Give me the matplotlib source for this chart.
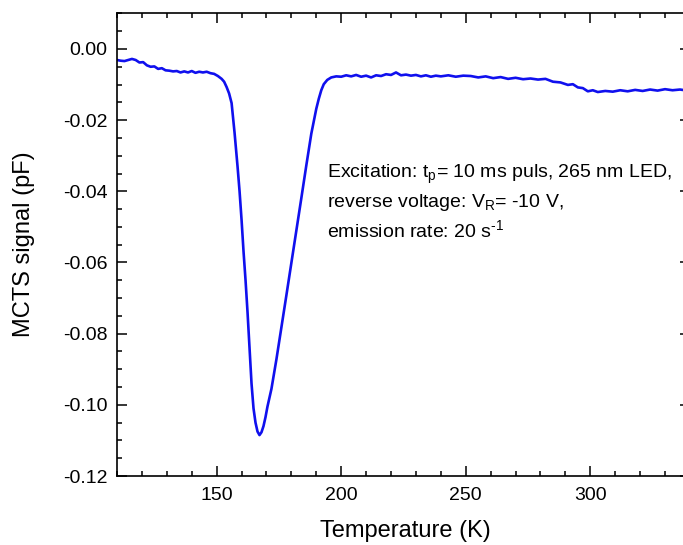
import matplotlib
matplotlib.use('Agg')
import matplotlib.pyplot as plt
from matplotlib.ticker import MultipleLocator

plt.rcParams['font.family'] = ['Liberation Sans', 'DejaVu Sans']
plt.rcParams['mathtext.fontset'] = 'custom'
plt.rcParams['mathtext.rm'] = 'Liberation Sans'
plt.rcParams['mathtext.it'] = 'Liberation Sans:italic'

# Temperatur (K) und MCTS-Signal (pF)
temperature = [
    110.0, 111.5, 113.0, 114.5, 116.0, 117.5, 119.0, 120.5, 122.0, 123.5,
    125.0, 126.5, 128.0, 129.5, 131.0, 132.5, 134.0, 135.5, 137.0, 138.5,
    140.0, 141.5, 143.0, 144.5, 146.0, 147.5, 149.0, 150.5, 152.0, 153.0,
    154.0, 155.0, 156.0, 157.2, 158.4, 159.2, 160.0, 160.8, 161.6, 162.4,
    163.2, 164.0, 164.8, 165.6, 166.4, 167.2, 168.0, 168.8, 169.6, 170.4,
    172.0, 174.0, 176.0, 178.0, 180.0, 182.0, 184.0, 186.0, 188.0, 190.0,
    191.0, 192.0, 193.0, 194.4, 196.0, 198.0,
    200, 202, 204, 206, 208, 210, 212, 214, 216, 218,
    220, 222, 224, 226, 228, 230, 232, 234, 236, 238,
    240, 243, 246, 249, 252, 255, 258, 261, 264, 267,
    270, 273, 276, 279, 282, 285, 288, 291, 293, 295,
    297, 299, 301, 303, 306, 309, 312, 315, 318, 321,
    324, 327, 330, 333, 336, 339, 341,
]
signal = [
    -0.0031, -0.0033, -0.0034, -0.0031, -0.0028, -0.0031, -0.0038, -0.0037, -0.0046, -0.0050,
    -0.0049, -0.0056, -0.0054, -0.0060, -0.0061, -0.0063, -0.0062, -0.0066, -0.0063, -0.0066,
    -0.0062, -0.0067, -0.0064, -0.0066, -0.0064, -0.0068, -0.0070, -0.0076, -0.0084, -0.0092,
    -0.0107, -0.0125, -0.0152, -0.0236, -0.0331, -0.0400, -0.0480, -0.0570, -0.0650, -0.0740,
    -0.0840, -0.0940, -0.1010, -0.1050, -0.1075, -0.1085, -0.1077, -0.1060, -0.1035, -0.1005,
    -0.0955, -0.0872, -0.0782, -0.0692, -0.0601, -0.0510, -0.0419, -0.0327, -0.0238, -0.0168,
    -0.0140, -0.0116, -0.0099, -0.0087, -0.0080, -0.0077,
    -0.0078, -0.0074, -0.0077, -0.0073, -0.0078, -0.0075, -0.0080, -0.0074, -0.0076, -0.0071,
    -0.0073, -0.0066, -0.0074, -0.0072, -0.0075, -0.0073, -0.0077, -0.0074, -0.0078, -0.0075,
    -0.0077, -0.0074, -0.0078, -0.0075, -0.0076, -0.0080, -0.0077, -0.0082, -0.0079, -0.0084,
    -0.0081, -0.0085, -0.0083, -0.0086, -0.0084, -0.0092, -0.0094, -0.0101, -0.0099, -0.0108,
    -0.0110, -0.0119, -0.0116, -0.0121, -0.0118, -0.0120, -0.0116, -0.0119, -0.0115, -0.0118,
    -0.0114, -0.0117, -0.0113, -0.0116, -0.0114, -0.0117, -0.0116,
]

annotation_lines = [
    r'Excitation: t$_\mathrm{p}$= 10 ms puls, 265 nm LED,',
    r'reverse voltage: V$_\mathrm{R}$= -10 V,',
    r'emission rate: 20 s$^\text{-1}$',
]

fig = plt.figure(figsize=(6.83, 5.45), dpi=100)
ax = fig.add_axes([0.1713, 0.1266, 0.8389, 0.8495])

ax.plot(temperature, signal, color='#1010ee', linewidth=1.9)

ax.set_xlim(110, 340)
ax.set_ylim(-0.12, 0.0101)
ax.xaxis.set_major_locator(MultipleLocator(50))
ax.xaxis.set_minor_locator(MultipleLocator(10))
ax.yaxis.set_major_locator(MultipleLocator(0.02))
ax.yaxis.set_minor_locator(MultipleLocator(0.005))
ax.yaxis.set_major_formatter(plt.FuncFormatter(lambda v, p: f'{v:.2f}'))

ax.tick_params(which='both', direction='in', top=True, right=True, labelsize=14)
ax.tick_params(which='major', length=7, width=1.1)
ax.tick_params(which='minor', length=3.5, width=1.1)
ax.tick_params(axis='x', pad=8)
ax.tick_params(axis='y', pad=7)
for sp in ax.spines.values():
    sp.set_linewidth(1.2)

ax.set_xlabel('Temperature (K)', fontsize=17)
ax.set_ylabel('MCTS signal (pF)', fontsize=17)
ax.xaxis.set_label_coords(0.503, -0.095)
ax.yaxis.set_label_coords(-0.143, 0.5)

# Textblock mit Messbedingungen
for line, y in zip(annotation_lines, [-0.0362, -0.0444, -0.0528]):
    ax.text(194.4, y, line, fontsize=14, va='baseline', ha='left')

fig.savefig('out.png', dpi=100)
